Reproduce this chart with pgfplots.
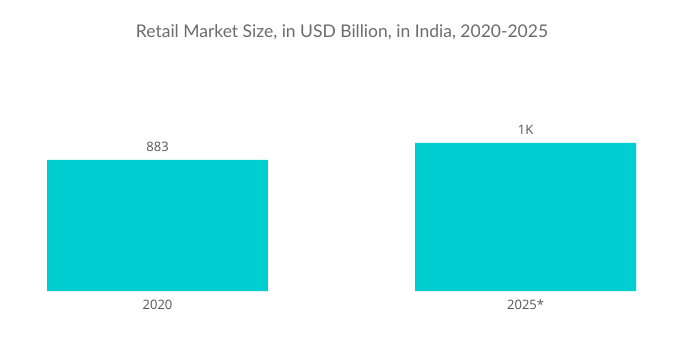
\documentclass[border=0pt]{standalone}
\usepackage{pgfplots}
\pgfplotsset{compat=1.18}
\usepackage{fontspec}
\setmainfont{Lato}
\newfontfamily\numfont{Open Sans}
\definecolor{barc}{HTML}{00CED1}
\definecolor{titc}{HTML}{6B6B6B}
\definecolor{labc}{HTML}{555555}
\begin{document}
\begin{tikzpicture}[x=1pt,y=1pt]
\useasboundingbox (0,-58) rectangle (685,291);
\begin{axis}[
  at={(0,0)}, anchor=south west,
  scale only axis, width=685pt, height=231pt,
  xmin=-0.428, xmax=1.433, ymin=0, ymax=1557,
  axis lines=none,
  ybar, bar width=0.6,
  xtick=\empty, ytick=\empty,
  clip=false,
  nodes near coords,
  point meta=explicit symbolic,
  every node near coord/.append style={font=\numfont\fontsize{13}{15}\selectfont, text=labc, anchor=center, yshift=13pt},
]
\addplot[fill=barc, draw=none] table[meta=lab] {
x y lab
0 883 883
1 998 1K
};
\node[font=\numfont\fontsize{13}{15}\selectfont, text=labc] at (axis cs:0,0) [yshift=-14pt] {2020};
\node[font=\numfont\fontsize{13}{15}\selectfont, text=labc] at (axis cs:1,0) [yshift=-14pt] {2025*};
\end{axis}
\node[font=\fontsize{17.5}{20}\selectfont, text=titc] at (342,259) {Retail Market Size, in USD Billion, in India, 2020-2025};
\end{tikzpicture}
\end{document}
